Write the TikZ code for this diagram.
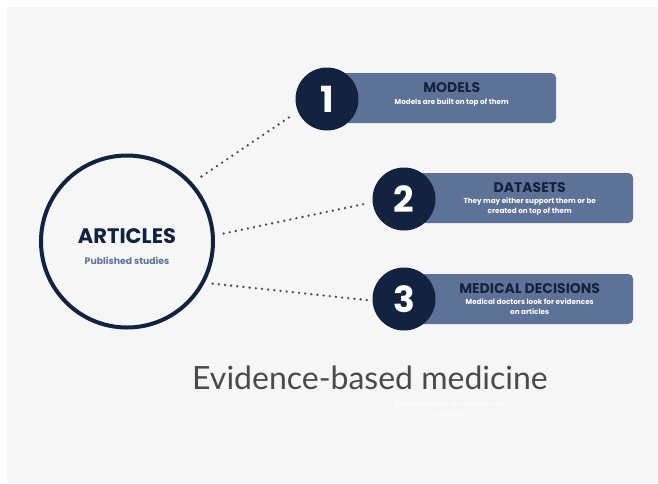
\documentclass[tikz,border=0pt]{standalone}
\usepackage{fontspec}
\setmainfont{Lato}
\newfontfamily\geo{Poppins}
\usetikzlibrary{positioning}
\definecolor{navy}{HTML}{13223F}
\definecolor{slate}{HTML}{5E7298}
\definecolor{paper}{HTML}{F6F6F6}
\definecolor{dotgray}{HTML}{4A4A4A}
\tikzset{numc/.style={circle, fill=navy, minimum size=63pt, inner sep=0pt, text=white, font=\geo\bfseries\fontsize{36}{36}\selectfont}}
\tikzset{infobox/.style={rounded corners=5pt, fill=slate, minimum width=229pt, minimum height=50pt, inner sep=0pt, anchor=west}}
\tikzset{ttl/.style={text=navy, inner sep=0pt, font=\geo\bfseries\fontsize{14}{14}\selectfont}}
\tikzset{sub/.style={text=white, inner sep=0pt, align=center, font=\geo\bfseries\fontsize{7.2}{10}\selectfont}}
\tikzset{dots/.style={dotgray, line width=2.6pt, line cap=round, dash pattern=on 0pt off 6.2pt}}

\begin{document}
\begin{tikzpicture}[x=1pt,y=-1pt]
\useasboundingbox (0,0) rectangle (658,483);
\fill[paper] (7,7) rectangle (658,483);

\node[circle, draw=navy, line width=4pt, minimum size=172pt] (articles) at (127,241.5) {};
\node[text=navy, inner sep=0pt, font=\geo\bfseries\fontsize{21}{21}\selectfont] (atitle) at ([yshift=5pt]articles.center) {ARTICLES};
\node[text=slate, inner sep=0pt, font=\geo\bfseries\fontsize{9.3}{10}\selectfont] (asub) [below=24.5pt of atitle.center, anchor=center] {Published studies};

\coordinate (c1) at (327,99);
\coordinate (c2) at (404,199);
\coordinate (c3) at (404,299);

\node[infobox] (b1) at ([yshift=1pt]c1) {};
\node[infobox] (b2) at ([yshift=1pt]c2) {};
\node[infobox] (b3) at (c3) {};

\node[numc] (n1) at (c1) {1};
\node[numc] (n2) at (c2) {2};
\node[numc] (n3) at (c3) {3};

\node[ttl] (t1) at ([xshift=10pt,yshift=10pt]b1.center) {MODELS};
\node[sub] (s1) [below=5pt of t1] {Models are built on top of them};
\node[ttl] (t2) at ([xshift=11pt,yshift=10pt]b2.center) {DATASETS};
\node[sub] (s2) [below=4pt of t2] {They may either support them or be\\created on top of them};
\node[ttl] (t3) at ([xshift=11pt,yshift=10pt]b3.center) {MEDICAL DECISIONS};
\node[sub] (s3) [below=4pt of t3] {Medical doctors look for evidences\\on articles};

\draw[dots, shorten <=11pt, shorten >=9pt] (articles.42) -- (n1.203);
\draw[dots, shorten <=9pt, shorten >=6pt] (articles.4) -- (n2.186);
\draw[dots, shorten <=8pt, shorten >=4.5pt] (articles.-28) -- (n3.183);

\node[text=dotgray, inner sep=0pt, anchor=base, font=\fontsize{32}{32}\selectfont] (heading) at (370,389) {Evidence-based medicine};
\node[text=white, inner sep=0pt, align=center, font=\fontsize{7.5}{10}\selectfont] (hint) at (452,409) {Briefly elaborate on what you want\\to discuss.};
\end{tikzpicture}
\end{document}
